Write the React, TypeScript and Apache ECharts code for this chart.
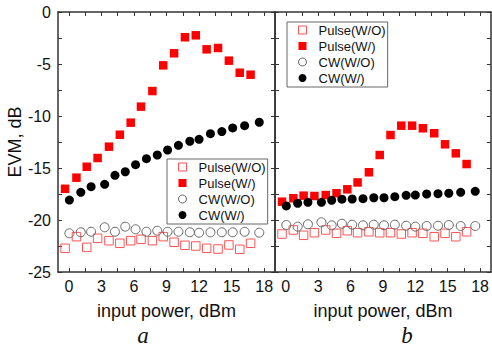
import React, { useEffect, useRef } from "react";
import * as echarts from "echarts";

// ---- data ----
const pulseX = [-0.35, 0.7, 1.65, 2.65, 3.7, 4.7, 5.7, 6.65, 7.7, 8.7, 9.7, 10.7, 11.7, 12.7, 13.75, 14.75, 15.75, 16.75];
const cwX = [0.05, 1.1, 2.05, 3.3, 4.25, 5.2, 6.15, 7.15, 8.15, 9.1, 10.1, 11.15, 12.0, 13.05, 14.1, 15.1, 16.2, 17.55];

// panel a
const pulseWoA = [-22.72, -21.6, -22.63, -21.76, -21.99, -22.24, -21.99, -21.86, -21.99, -21.6, -22.14, -22.43, -22.5, -22.72, -22.79, -22.4, -22.82, -22.24];
const pulseWA = [-17.0, -15.93, -14.88, -14.04, -12.95, -11.8, -10.64, -9.1, -7.6, -5.13, -3.97, -2.43, -2.24, -3.59, -3.46, -4.68, -5.84, -6.03];
const cwWoA = [-21.28, -21.18, -21.13, -20.7, -21.13, -20.64, -20.89, -21.13, -21.03, -21.13, -21.13, -21.18, -21.22, -21.18, -21.18, -21.18, -21.13, -21.22];
const cwWA = [-18.08, -17.34, -16.8, -16.57, -15.7, -15.36, -14.68, -14.1, -13.75, -13.27, -12.82, -12.43, -12.24, -11.7, -11.5, -11.15, -10.93, -10.6];

// panel b
const pulseWoB = [-21.35, -20.96, -21.47, -21.22, -20.96, -21.28, -21.03, -21.22, -21.13, -21.22, -21.22, -21.35, -21.22, -21.28, -21.61, -21.28, -21.61, -21.13];
const pulseWB = [-18.24, -17.91, -17.66, -17.69, -17.6, -17.43, -17.05, -16.39, -15.41, -13.75, -11.83, -10.93, -10.93, -11.18, -11.66, -12.72, -13.59, -14.62];
const cwWoB = [-20.48, -20.64, -20.41, -20.22, -20.51, -20.36, -20.45, -20.51, -20.45, -20.51, -20.45, -20.55, -20.64, -20.58, -20.55, -20.48, -20.58, -20.58];
const cwWB = [-18.65, -18.39, -18.3, -18.3, -18.1, -18.0, -17.98, -17.95, -17.86, -17.86, -17.76, -17.63, -17.6, -17.5, -17.47, -17.43, -17.34, -17.24];

const seriesNames = ["Pulse(W/O)", "Pulse(W/)", "CW(W/O)", "CW(W/)"];
const xTickLabels = [0, 3, 6, 9, 12, 15, 18];
const yTickLabels = [-25, -20, -15, -10, -5, 0];
const xTicks = xTickLabels.flatMap((v, i) => (i < xTickLabels.length - 1 ? [v, v + 1.5] : [v]));
const yTicks = yTickLabels.flatMap((v, i) => (i < yTickLabels.length - 1 ? [v, v + 2.5] : [v]));
const panelLabels = ["a", "b"];

const FONT = "'Liberation Sans', Arial, sans-serif";
const axisColor = "#333";

function xAxisDef(gridIndex: number, position: "top" | "bottom", labels: boolean) {
  return {
    type: "value",
    gridIndex,
    position,
    min: -1,
    max: 19,
    axisLine: { show: true, onZero: false, lineStyle: { color: axisColor, width: 1.5 } },
    axisTick: { show: true, inside: true, length: 4, customValues: xTicks, lineStyle: { color: axisColor, width: 1 } },
    axisLabel: { show: labels, customValues: xTickLabels, margin: 6, fontSize: 16, color: "#111", fontFamily: FONT },
    splitLine: { show: false },
    name: labels ? "input power, dBm" : "",
    nameLocation: "middle",
    nameGap: 30,
    nameTextStyle: { fontSize: 18, color: "#111", fontFamily: FONT },
  };
}

function yAxisDef(gridIndex: number, position: "left" | "right", labels: boolean, title: boolean) {
  return {
    type: "value",
    gridIndex,
    position,
    min: -25,
    max: 0,
    axisLine: { show: true, onZero: false, lineStyle: { color: axisColor, width: 1.5 } },
    axisTick: { show: true, inside: true, length: 4, customValues: yTicks, lineStyle: { color: axisColor, width: 1 } },
    axisLabel: { show: labels, customValues: yTickLabels, margin: 7, fontSize: 16, color: "#111", fontFamily: FONT },
    splitLine: { show: false },
    name: title ? "EVM, dB" : "",
    nameLocation: "middle",
    nameGap: 32,
    nameTextStyle: { fontSize: 18, color: "#111", fontFamily: FONT },
  };
}

const styles = [
  { symbol: "rect", symbolSize: 8.5, itemStyle: { opacity: 1, color: "rgba(255,255,255,0)", borderColor: "#f55", borderWidth: 1 } },
  { symbol: "rect", symbolSize: 8.5, itemStyle: { opacity: 1, color: "#ff0000" } },
  { symbol: "circle", symbolSize: 9, itemStyle: { opacity: 1, color: "rgba(255,255,255,0)", borderColor: "#666", borderWidth: 1 } },
  { symbol: "circle", symbolSize: 9, itemStyle: { opacity: 1, color: "#000" } },
];

function makeSeries(panel: number, ys: number[][]) {
  const xs = [pulseX, pulseX, cwX, cwX];
  return ys.map((arr, i) => ({
    type: "scatter",
    name: seriesNames[i],
    xAxisIndex: panel * 2,
    yAxisIndex: panel * 2,
    data: arr.map((y, j) => [xs[i][j], y]),
    ...styles[i],
  }));
}

function legendDef(left: number, top: number) {
  return {
    orient: "vertical",
    left,
    top,
    data: seriesNames.map((name, i) => ({ name, itemStyle: { ...styles[i].itemStyle, borderWidth: styles[i].itemStyle.borderWidth ?? 0 } })),
    itemWidth: 8,
    itemHeight: 8,
    itemGap: 0,
    padding: [0, 2, 1, 11],
    borderColor: "#666",
    borderWidth: 1,
    selectedMode: false,
    textStyle: { fontSize: 13, lineHeight: 16, color: "#111", fontFamily: FONT, padding: [0, 0, 0, 7] },
  };
}

export default function App() {
  const ref = useRef<HTMLDivElement>(null);
  useEffect(() => {
    const chart = echarts.init(ref.current!, null, { renderer: "svg" });
    chart.setOption({
      animation: false,
      backgroundColor: "#fff",
      grid: [
        { left: 58, top: 12, width: 217, height: 260 },
        { left: 275, top: 12, width: 218, height: 260 },
      ],
      xAxis: [xAxisDef(0, "bottom", true), xAxisDef(0, "top", false), xAxisDef(1, "bottom", true), xAxisDef(1, "top", false)],
      yAxis: [yAxisDef(0, "left", true, true), yAxisDef(0, "right", false, false), yAxisDef(1, "left", false, false), yAxisDef(1, "right", false, false)],
      legend: [legendDef(167, 159), legendDef(287, 22)],
      series: [
        ...makeSeries(0, [pulseWoA, pulseWA, cwWoA, cwWA]),
        ...makeSeries(1, [pulseWoB, pulseWB, cwWoB, cwWB]),
      ],
      graphic: [
        { type: "text", x: 143, y: 335, style: { text: panelLabels[0], font: "italic 23px 'Liberation Serif', 'Times New Roman', serif", fill: "#111", align: "center", verticalAlign: "middle" } },
        { type: "text", x: 407, y: 335, style: { text: panelLabels[1], font: "italic 23px 'Liberation Serif', 'Times New Roman', serif", fill: "#111", align: "center", verticalAlign: "middle" } },
      ],
    });
    return () => chart.dispose();
  }, []);
  return <div ref={ref} style={{ position: "fixed", left: 0, top: 0, width: 492, height: 352, background: "#fff" }} />;
}
